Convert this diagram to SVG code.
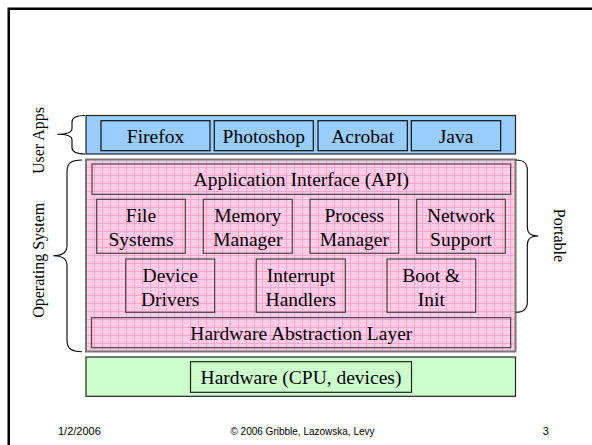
<svg xmlns="http://www.w3.org/2000/svg" width="592" height="445" viewBox="0 0 592 445">
  <defs>
    <pattern id="grid" patternUnits="userSpaceOnUse" width="8" height="8" x="86" y="159">
      <rect width="8" height="8" fill="#FFCCE6"/>
      <path d="M0.5,0 V8 M0,0.5 H8" stroke="#FF99CC" stroke-width="1" opacity="0.8"/>
    </pattern>
  </defs>
  <style>
    .lbl { font-family: "Liberation Serif", "Times New Roman", serif; font-size: 19.5px; fill: #000; text-anchor: middle; }
    .side { font-family: "Liberation Serif", "Times New Roman", serif; font-size: 16px; fill: #000; text-anchor: middle; }
    .foot { font-family: "Liberation Sans", Arial, sans-serif; fill: #000; }
    .app { fill: #99CCFF; stroke: #111; stroke-width: 1.2; }
    .os { fill: url(#grid); stroke: #444; stroke-width: 1.2; }
    .brace { fill: none; stroke: #000; stroke-width: 1.1; }
  </style>

  <rect width="592" height="445" fill="#fff"/>
  <path d="M8.75,445 V8.75 H592" fill="none" stroke="#000" stroke-width="2.5"/>

  <g id="user-apps-layer">
    <rect x="86" y="115.5" width="429.5" height="38.5" fill="#99CCFF" stroke="#222" stroke-width="1.2"/>
  </g>
  <g id="firefox"><rect class="app" x="101" y="120.7" width="109" height="30"/><text class="lbl" x="155.5" y="143">Firefox</text></g>
  <g id="photoshop"><rect class="app" x="214.3" y="120.7" width="99" height="30"/><text class="lbl" x="263.8" y="143">Photoshop</text></g>
  <g id="acrobat"><rect class="app" x="318" y="120.7" width="89.3" height="30"/><text class="lbl" x="362.7" y="143">Acrobat</text></g>
  <g id="java"><rect class="app" x="411.3" y="120.7" width="89.4" height="30"/><text class="lbl" x="456" y="143">Java</text></g>

  <g id="os-layer">
    <rect x="86" y="159.5" width="429.5" height="192" fill="url(#grid)" stroke="#777" stroke-width="2"/>
  </g>
  <g id="api"><rect class="os" x="92" y="164" width="418.7" height="30.3"/><text class="lbl" x="301.3" y="186">Application Interface (API)</text></g>
  <g id="file-systems"><rect class="os" x="96.7" y="199.3" width="88.6" height="54"/><text class="lbl" x="141" y="222.3">File</text><text class="lbl" x="141" y="246.3">Systems</text></g>
  <g id="memory-manager"><rect class="os" x="203.3" y="199.3" width="89" height="54"/><text class="lbl" x="247.8" y="222.3">Memory</text><text class="lbl" x="247.8" y="246.3">Manager</text></g>
  <g id="process-manager"><rect class="os" x="310" y="199.3" width="88.7" height="54"/><text class="lbl" x="354.3" y="222.3">Process</text><text class="lbl" x="354.3" y="246.3">Manager</text></g>
  <g id="network-support"><rect class="os" x="416.7" y="199.3" width="88.6" height="54"/><text class="lbl" x="461" y="222.3">Network</text><text class="lbl" x="461" y="246.3">Support</text></g>
  <g id="device-drivers"><rect class="os" x="125.7" y="259" width="89" height="53.3"/><text class="lbl" x="170.2" y="281.7">Device</text><text class="lbl" x="170.2" y="305.7">Drivers</text></g>
  <g id="interrupt-handlers"><rect class="os" x="256.3" y="259" width="89" height="53.3"/><text class="lbl" x="300.8" y="281.7">Interrupt</text><text class="lbl" x="300.8" y="305.7">Handlers</text></g>
  <g id="boot-init"><rect class="os" x="387" y="259" width="88.7" height="53.3"/><text class="lbl" x="431.3" y="281.7">Boot &amp;</text><text class="lbl" x="431.3" y="305.7">Init</text></g>
  <g id="hal"><rect class="os" x="91.5" y="317.7" width="419.2" height="30"/><text class="lbl" x="301.3" y="339.5">Hardware Abstraction Layer</text></g>

  <g id="hardware-layer">
    <rect x="86" y="357" width="429.5" height="39.3" fill="#CCFFCC" stroke="#222" stroke-width="1.2"/>
  </g>
  <g id="hardware"><rect x="190.5" y="361.7" width="221" height="30.6" fill="#CCFFCC" stroke="#222" stroke-width="1.2"/><text class="lbl" x="301" y="384">Hardware (CPU, devices)</text></g>

  <g id="connectors">
    <path class="brace" d="M85,115.5 C76,115.5 72,117.5 72,122 V128.5 C72,132.5 68,134.3 57.3,134.3 C68,134.3 72,136 72,140 V147.5 C72,152 76,154 85,154"/>
    <path class="brace" d="M82,160 C71,160 67,163 67,172 V246 C67,252.5 63,255.7 53.3,255.7 C63,255.7 67,259 67,265.5 V340 C67,348.5 71,351.7 82,351.7"/>
    <path class="brace" d="M515.7,160 C524,160 527.3,163 527.3,170 V227 C527.3,233 530,236 538.3,236 C530,236 527.3,239 527.3,245 V302 C527.3,309 524,312.3 515.7,312.3"/>
  </g>

  <g id="label-user-apps"><text class="side" transform="translate(44,140.5) rotate(-90)">User Apps</text></g>
  <g id="label-os"><text class="side" transform="translate(44,260.3) rotate(-90)">Operating System</text></g>
  <g id="label-portable"><text class="side" transform="translate(554,235.5) rotate(90)">Portable</text></g>

  <g id="footer">
    <text class="foot" x="58" y="435" font-size="11">1/2/2006</text>
    <text class="foot" x="302.5" y="435" font-size="10" text-anchor="middle">© 2006 Gribble, Lazowska, Levy</text>
    <text class="foot" x="542.7" y="435" font-size="11">3</text>
  </g>
</svg>
